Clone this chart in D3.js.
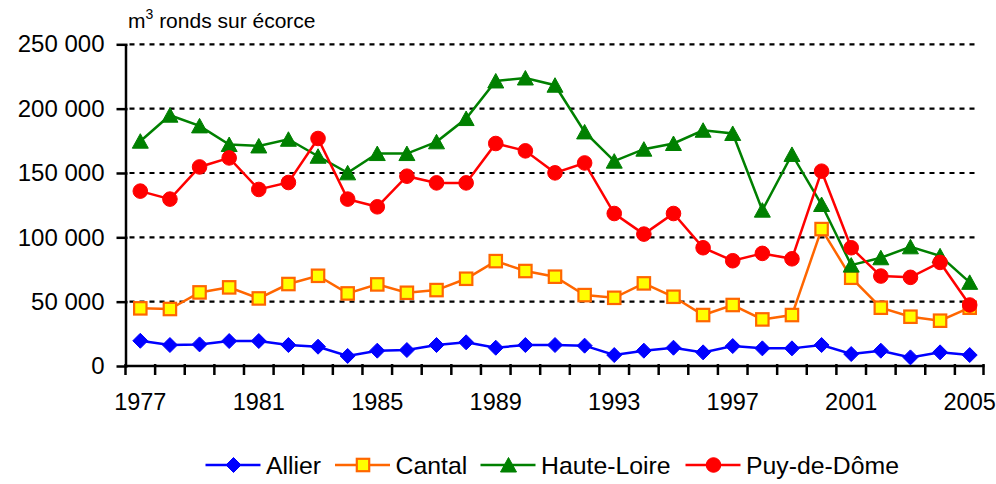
<!DOCTYPE html>
<html>
<head>
<meta charset="utf-8">
<script src="https://cdn.jsdelivr.net/npm/d3@7"></script>
<style>
  body { margin: 0; background: #fff; }
  svg { display: block; font-family: "Liberation Sans", Arial, sans-serif; }
</style>
</head>
<body>
<div class="container"></div>
<script>
// years on the x axis
const years = d3.range(1977, 2006);
const yearLabels = [1977, 1981, 1985, 1989, 1993, 1997, 2001, 2005];
const yTicks = [0, 50000, 100000, 150000, 200000, 250000];

// m3 per year
const allier = [19600, 16300, 16800, 19400, 19400, 16300, 15000, 7800, 11900, 12400,
    16300, 18400, 14200, 16300, 16300, 15800, 8500, 11900, 14200, 10600, 15500,
    13700, 13700, 16300, 9300, 11900, 6700, 10600, 8500];
const cantal = [44800, 44300, 57200, 61100, 52500, 63700, 70100, 56400, 63400, 56900,
    59000, 67800, 81500, 73800, 69400, 55100, 53000, 64200, 53800, 39600, 47400,
    36200, 39600, 106400, 68600, 45300, 38300, 35200, 45300];
const hauteLoire = [174700, 194900, 186600, 172100, 171000, 176200, 163000, 150100, 165100, 165100,
    174200, 192300, 221500, 223800, 218200, 181900, 159200, 168500, 172900, 183200, 180700,
    121100, 164400, 125500, 78400, 84100, 92600, 85600, 65000];
const puyDeDome = [135900, 129700, 154700, 161700, 137200, 142600, 176800, 129700, 123700, 147500,
    142300, 142300, 172900, 167200, 150100, 157800, 118500, 102500, 118500, 91900, 81800,
    87500, 83300, 151400, 91900, 69900, 68900, 80500, 47400];

const seriesNames = ['Allier', 'Cantal', 'Haute-Loire', 'Puy-de-Dôme'];

const series = [
    { name: seriesNames[0], values: allier, stroke: '#0000ff', fill: '#0000ff', marker: 'diamond' },
    { name: seriesNames[1], values: cantal, stroke: '#ff6600', fill: '#ffff00', marker: 'square' },
    { name: seriesNames[2], values: hauteLoire, stroke: '#008000', fill: '#008000', marker: 'triangle' },
    { name: seriesNames[3], values: puyDeDome, stroke: '#ff0000', fill: '#ff0000', marker: 'circle' }
];

const width = 996, height = 484;
const plot = { left: 125.5, right: 984.5, top: 44.3, bottom: 366 };

const svg = d3.select('.container').append('svg')
    .attr('width', width)
    .attr('height', height);

const x = d3.scaleBand().domain(years).range([plot.left, plot.right]).padding(0);
const y = d3.scaleLinear().domain([0, 250000]).range([plot.bottom, plot.top]);
const cx = d => x(d) + x.bandwidth() / 2;

const fr = d3.formatLocale({ decimal: ',', thousands: '\u00a0', grouping: [3], currency: ['', ''] });
const fmt = fr.format(',');

// dashed gridlines
svg.append('g')
    .selectAll('line')
    .data(yTicks.filter(d => d > 0))
    .join('line')
    .attr('x1', plot.left + 4)
    .attr('x2', 976)
    .attr('y1', d => y(d))
    .attr('y2', d => y(d))
    .attr('stroke', '#000')
    .attr('stroke-width', 2.2)
    .attr('stroke-dasharray', '5,5');

// y axis
const yAxis = d3.axisLeft(y)
    .tickValues(yTicks)
    .tickFormat(fmt)
    .tickSizeInner(9)
    .tickSizeOuter(0)
    .tickPadding(12);

const yg = svg.append('g')
    .attr('transform', `translate(${plot.left},0)`)
    .call(yAxis);
yg.select('.domain').attr('stroke-width', 2.5);
yg.selectAll('.tick line').attr('stroke-width', 2.5).attr('x2', -9).attr('x1', 2);
yg.selectAll('.tick text')
    .attr('font-size', 24)
    .attr('fill', '#000')
    .attr('font-family', '"Liberation Sans", Arial, sans-serif');

// x axis: ticks on band edges, labels every 4 years
const xg = svg.append('g');
xg.append('line')
    .attr('x1', plot.left).attr('x2', plot.right)
    .attr('y1', plot.bottom).attr('y2', plot.bottom)
    .attr('stroke', '#000').attr('stroke-width', 2.5);
xg.selectAll('line.tick')
    .data(years.concat([null]))
    .join('line')
    .attr('class', 'tick')
    .attr('x1', d => d === null ? plot.right - 1 : x(d))
    .attr('x2', d => d === null ? plot.right - 1 : x(d))
    .attr('y1', plot.bottom - 2)
    .attr('y2', plot.bottom + 9)
    .attr('stroke', '#000')
    .attr('stroke-width', 2.5);
xg.selectAll('text')
    .data(yearLabels)
    .join('text')
    .attr('x', d => cx(d))
    .attr('y', 410)
    .attr('text-anchor', 'middle')
    .attr('font-size', 23.5)
    .text(d => d);

// unit title
const title = svg.append('text')
    .attr('x', 128)
    .attr('y', 28)
    .attr('font-size', 21);
title.append('tspan').text('m');
title.append('tspan').attr('dy', -9).attr('font-size', 14).text('3');
title.append('tspan').attr('dy', 9).text(' ronds sur écorce');

function drawMarker(g, type, s) {
    if (type === 'diamond') {
        g.append('path').attr('d', 'M0,-7.5L7.5,0L0,7.5L-7.5,0Z')
            .attr('fill', s.fill).attr('stroke', s.stroke).attr('stroke-width', 1);
    } else if (type === 'square') {
        g.append('rect').attr('x', -6.2).attr('y', -6.2).attr('width', 12.4).attr('height', 12.4)
            .attr('fill', s.fill).attr('stroke', s.stroke).attr('stroke-width', 2.2);
    } else if (type === 'triangle') {
        g.append('path').attr('d', 'M0,-7.5L8,7L-8,7Z')
            .attr('fill', s.fill).attr('stroke', s.stroke).attr('stroke-width', 1);
    } else {
        g.append('circle').attr('r', 7.3)
            .attr('fill', s.fill).attr('stroke', s.stroke).attr('stroke-width', 1);
    }
}

const line = d3.line()
    .x((d, i) => cx(years[i]))
    .y(d => y(d));

series.forEach(s => {
    const g = svg.append('g');
    g.append('path')
        .datum(s.values)
        .attr('d', line)
        .attr('fill', 'none')
        .attr('stroke', s.stroke)
        .attr('stroke-width', 2.5);
    g.selectAll('g.pt')
        .data(s.values)
        .join('g')
        .attr('class', 'pt')
        .attr('transform', (d, i) => `translate(${cx(years[i])},${y(d)})`)
        .each(function () { drawMarker(d3.select(this), s.marker, s); });
});

// legend
const legendX = [205.5, 335, 480.5, 685.5];
const legendY = 465;
series.forEach((s, i) => {
    const g = svg.append('g').attr('transform', `translate(${legendX[i]},${legendY})`);
    g.append('line').attr('x1', 0).attr('x2', 55).attr('y1', 0).attr('y2', 0)
        .attr('stroke', s.stroke).attr('stroke-width', 2.5);
    const m = g.append('g').attr('transform', 'translate(28,0)');
    drawMarker(m, s.marker, s);
    g.append('text')
        .attr('x', 60.5)
        .attr('y', 9)
        .attr('font-size', 24.8)
        .text(s.name);
});
</script>
</body>
</html>
